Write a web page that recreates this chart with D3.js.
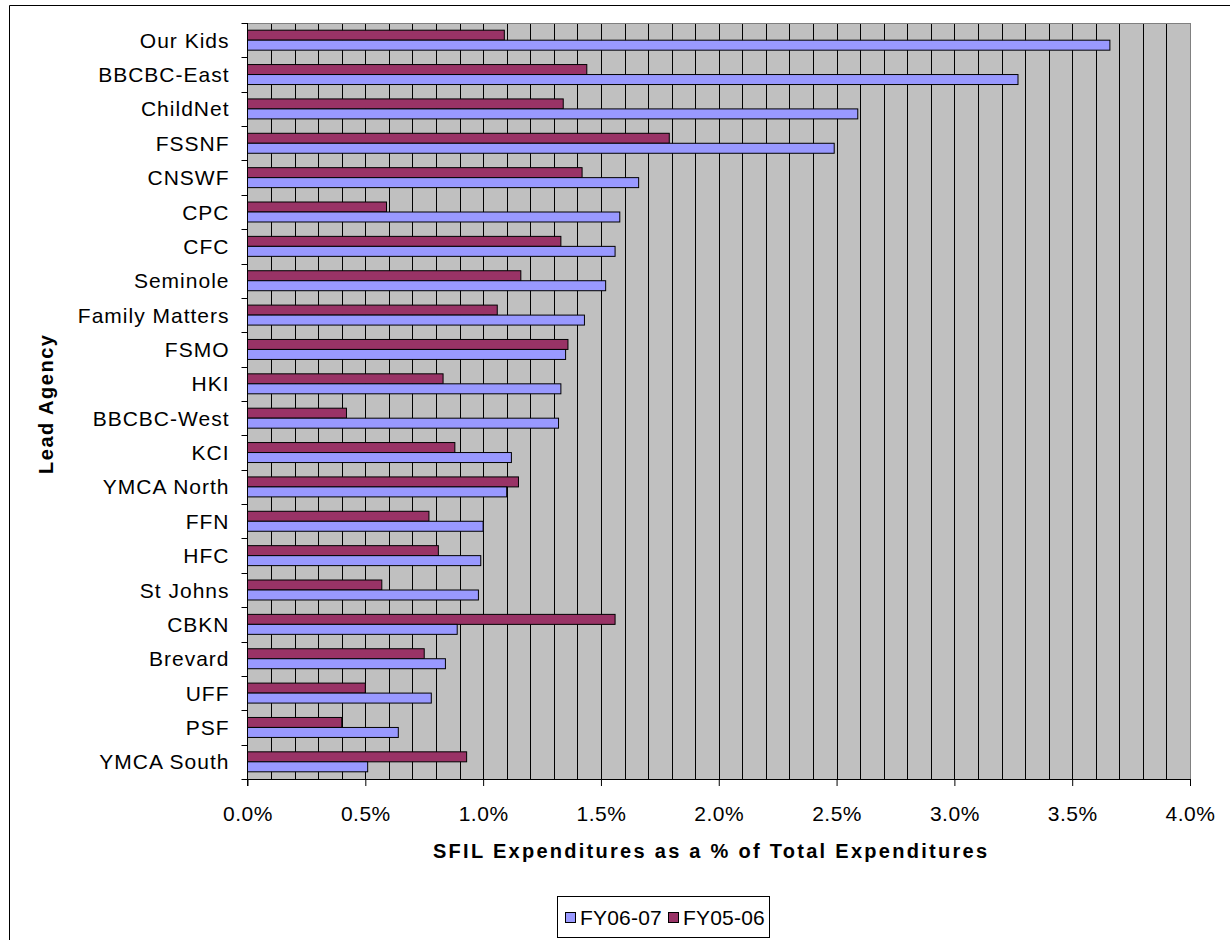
<!DOCTYPE html>
<html>
<head>
<meta charset="utf-8">
<script src="https://cdn.jsdelivr.net/npm/d3@7"></script>
<style>
	body { margin: 0; background: #fff; }
	svg { display: block; font-family: "Liberation Sans", Arial, sans-serif; }
</style>
</head>
<body>
<div id="chart"></div>
<script>

// categories, top to bottom
let agencies = ['Our Kids', 'BBCBC-East', 'ChildNet', 'FSSNF', 'CNSWF', 'CPC', 'CFC', 'Seminole',
	'Family Matters', 'FSMO', 'HKI', 'BBCBC-West', 'KCI', 'YMCA North', 'FFN', 'HFC', 'St Johns',
	'CBKN', 'Brevard', 'UFF', 'PSF', 'YMCA South'];

// SFIL expenditures as % of total
let fy0607 = [3.66, 3.27, 2.59, 2.49, 1.66, 1.58, 1.56, 1.52, 1.43, 1.35, 1.33, 1.32, 1.12, 1.10,
	1.00, 0.99, 0.98, 0.89, 0.84, 0.78, 0.64, 0.51];
let fy0506 = [1.09, 1.44, 1.34, 1.79, 1.42, 0.59, 1.33, 1.16, 1.06, 1.36, 0.83, 0.42, 0.88, 1.15,
	0.77, 0.81, 0.57, 1.56, 0.75, 0.50, 0.40, 0.93];

let seriesNames = ['FY05-06', 'FY06-07'];   // drawing order inside a band
let legendNames = ['FY06-07', 'FY05-06'];
let xTicks = [0, 0.5, 1, 1.5, 2, 2.5, 3, 3.5, 4];
let xTitle = 'SFIL Expenditures as a % of Total Expenditures';
let yTitle = 'Lead Agency';

let colors = {'FY06-07': '#9999ff', 'FY05-06': '#993366'};

let width = 1230;
let height = 940;
let plot = {left: 247.5, right: 1190, top: 23, bottom: 779};

let rows = agencies.map((a, i) => ({name: a, 'FY06-07': fy0607[i], 'FY05-06': fy0506[i]}));

const svg = d3.select('#chart')
	.append('svg')
	.attr('width', width)
	.attr('height', height);

// outer frame (right and bottom edges fall off the picture)
svg.append('path')
	.attr('d', `M9.5,${height + 2}V5.5H${width + 2}`)
	.attr('fill', 'none')
	.attr('stroke', '#000');

let x = d3.scaleLinear()
	.domain([0, 4])
	.range([plot.left, plot.right]);

let y = d3.scaleBand()
	.domain(agencies)
	.range([plot.top, plot.bottom]);

let ySub = d3.scaleBand()
	.domain(seriesNames)
	.range([0, y.bandwidth()])
	.paddingOuter(0.72);

// plot background
svg.append('rect')
	.attr('x', plot.left)
	.attr('y', plot.top)
	.attr('width', plot.right - plot.left)
	.attr('height', plot.bottom - plot.top)
	.attr('fill', '#c0c0c0');

// gridlines every 0.1%
svg.append('g')
	.attr('shape-rendering', 'crispEdges')
	.selectAll('line')
	.data(d3.range(1, 40).map(d => d / 10))
	.join('line')
	.attr('x1', d => Math.round(x(d)) + 0.5)
	.attr('x2', d => Math.round(x(d)) + 0.5)
	.attr('y1', plot.top)
	.attr('y2', plot.bottom)
	.attr('stroke', '#000');

// top/right border
svg.append('path')
	.attr('d', `M${plot.left},${plot.top + 0.5}H${plot.right + 0.5}V${plot.bottom}`)
	.attr('fill', 'none')
	.attr('stroke', '#808080')
	.attr('shape-rendering', 'crispEdges');

// bars
let groups = svg.append('g')
	.selectAll('g')
	.data(rows)
	.join('g')
	.attr('transform', d => `translate(0,${y(d.name)})`);

groups.selectAll('rect')
	.data(d => seriesNames.map(s => ({key: s, value: d[s]})))
	.join('rect')
	.attr('x', x(0))
	.attr('y', d => ySub(d.key))
	.attr('width', d => x(d.value) - x(0))
	.attr('height', ySub.bandwidth())
	.attr('fill', d => colors[d.key])
	.attr('stroke', '#000')
	.attr('stroke-width', 1);

// x axis
let xAxis = svg.append('g')
	.attr('transform', `translate(0,${plot.bottom})`)
	.call(d3.axisBottom(x)
		.tickValues(xTicks)
		.tickFormat(d => d.toFixed(1) + '%')
		.tickSize(7)
		.tickSizeOuter(0));

xAxis.select('.domain').attr('stroke', '#000');
xAxis.selectAll('.tick line').attr('stroke', '#000');
xAxis.selectAll('.tick text')
	.attr('y', 42)
	.attr('dy', 0)
	.attr('fill', '#000')
	.style('font-size', '21px')
	.style('letter-spacing', '0.5px')
	.style('font-family', '"Liberation Sans", Arial, sans-serif');

// y axis: ticks sit on band edges, labels in the middle
let yAxis = svg.append('g');

yAxis.append('line')
	.attr('x1', plot.left)
	.attr('x2', plot.left)
	.attr('y1', plot.top)
	.attr('y2', plot.bottom + 7)
	.attr('stroke', '#000');

yAxis.selectAll('.edge')
	.data(agencies.map(a => y(a)).concat([plot.bottom]))
	.join('line')
	.attr('class', 'edge')
	.attr('x1', plot.left - 6)
	.attr('x2', plot.left)
	.attr('y1', d => Math.round(d) + 0.5)
	.attr('y2', d => Math.round(d) + 0.5)
	.attr('stroke', '#000');

yAxis.selectAll('text')
	.data(agencies)
	.join('text')
	.attr('x', 229.5)
	.attr('y', d => y(d) + y.bandwidth() / 2 + 7.5)
	.attr('text-anchor', 'end')
	.style('font-size', '21px')
	.style('letter-spacing', '1px')
	.text(d => d);

// axis titles
svg.append('text')
	.attr('x', 433)
	.attr('y', 858)
	.attr('textLength', 554)
	.attr('lengthAdjust', 'spacing')
	.style('font-size', '20px')
	.style('font-weight', 'bold')
	.text(xTitle);

svg.append('text')
	.attr('transform', 'translate(53,404.5) rotate(-90)')
	.attr('text-anchor', 'middle')
	.attr('textLength', 139)
	.attr('lengthAdjust', 'spacing')
	.style('font-size', '20px')
	.style('font-weight', 'bold')
	.text(yTitle);

// legend
let legend = svg.append('g');

legend.append('rect')
	.attr('x', 557.5)
	.attr('y', 896.5)
	.attr('width', 212)
	.attr('height', 41)
	.attr('fill', '#fff')
	.attr('stroke', '#000');

let legendX = d3.scalePoint()
	.domain(legendNames)
	.range([565, 668]);

let item = legend.selectAll('.item')
	.data(legendNames)
	.join('g')
	.attr('class', 'item')
	.attr('transform', d => `translate(${legendX(d)},0)`);

item.append('rect')
	.attr('x', 0.5)
	.attr('y', 912.5)
	.attr('width', 10)
	.attr('height', 10)
	.attr('fill', d => colors[d])
	.attr('stroke', '#000');

item.append('text')
	.attr('x', 15)
	.attr('y', 924.5)
	.style('font-size', '21px')
	.style('letter-spacing', '0.2px')
	.text(d => d);

</script>
</body>
</html>
